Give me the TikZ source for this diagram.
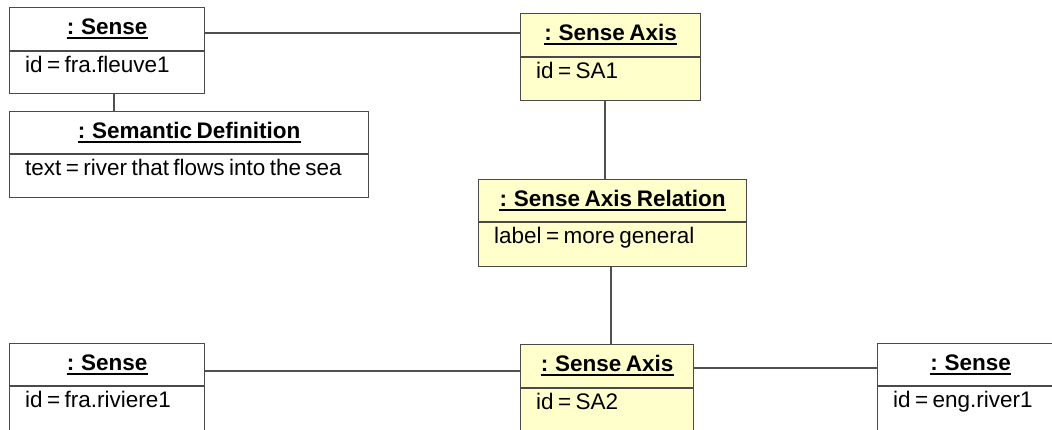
\documentclass[tikz,border=0pt]{standalone}
\usepackage{fontspec}
\setmainfont{Liberation Sans}
\usetikzlibrary{calc}

\definecolor{objyellow}{HTML}{FFFFCC}
\definecolor{objedge}{HTML}{4A4A4A}
\definecolor{linkgray}{HTML}{505050}

% title and attribute fonts, with tight word spacing
\newcommand\objtitlefont{\fontsize{22.5}{26}\selectfont\bfseries\spaceskip=4.6pt\relax}
\newcommand\objattrfont{\fontsize{22.5}{25}\selectfont\spaceskip=4.4pt\relax}

\tikzset{
  objbox/.style={draw=objedge, line width=1.3pt, anchor=north west, inner sep=0pt},
  objrule/.style={draw=objedge, line width=1.3pt},
  titletext/.style={anchor=base, inner sep=0pt},
  attrtext/.style={anchor=base west, inner sep=0pt},
  link/.style={draw=linkgray, line width=1.3pt},
}

% \objbox{name}{x1}{y1}{x2}{y2}{divider y}{fill}{title}{attribute}
\newcommand\objbox[9]{%
  \node[objbox, fill=#7, minimum width={#4-#2}, minimum height={#5-#3}] (#1) at (#2,#3) {};
  \draw[objrule] (#1.west |- 0,#6) -- (#1.east |- 0,#6);
  \node[titletext] (#1-t) at ([yshift=-27pt]#1.north) {\objtitlefont #8};
  \draw[line width=2pt] ([yshift=-3.5pt]#1-t.base west) -- ([yshift=-3.5pt]#1-t.base east);
  \node[attrtext] (#1-a) at ([xshift=16pt]#1.west |- 0,{#6+21}) {\objattrfont #9};
}

\begin{document}
\begin{tikzpicture}[x=1pt, y=-1pt]
  \useasboundingbox (0,0) rectangle (1052,429);
  \begin{scope}
    \clip (0,0) rectangle (1052,429);

    % object boxes
    \objbox{s1}{9}{7}{204}{93}{51}{white}{: Sense}{id = fra.fleuve1}
    \objbox{sd}{9}{111}{368}{197}{154}{white}{: Semantic Definition}{text = river that flows into the sea}
    \objbox{sa1}{520}{13}{700}{100}{57}{objyellow}{: Sense Axis}{id = SA1}
    \objbox{rel}{478}{179}{746}{266}{222}{objyellow}{: Sense Axis Relation}{label = more general}
    \objbox{s2}{9}{343}{204}{431}{386}{white}{: Sense}{id = fra.riviere1}
    \objbox{sa2}{520}{344}{693}{432}{388}{objyellow}{: Sense Axis}{id = SA2}
    \objbox{s3}{877}{343}{1063}{431}{386}{white}{: Sense}{id = eng.river1}

    % links between the objects
    \draw[link] (s1.east |- 0,33) -- (sa1.west |- 0,33);
    \draw[link] (s1.south -| 114,0) -- (sd.north -| 114,0);
    \draw[link] (sa1.south -| 605,0) -- (rel.north -| 605,0);
    \draw[link] (rel.south -| 611,0) -- (sa2.north -| 611,0);
    \draw[link] (s2.east |- 0,371) -- (sa2.west |- 0,371);
    \draw[link] (sa2.east |- 0,368) -- (s3.west |- 0,368);
  \end{scope}
\end{tikzpicture}
\end{document}
